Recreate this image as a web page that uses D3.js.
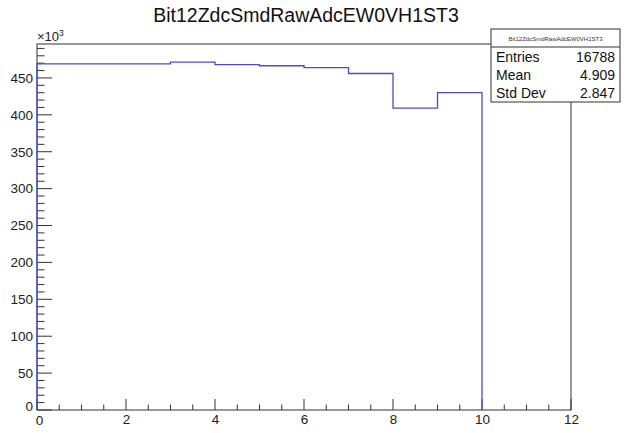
<!DOCTYPE html>
<html>
<head>
<meta charset="utf-8">
<script src="https://cdn.jsdelivr.net/npm/d3@7"></script>
<style>
  html, body { margin: 0; padding: 0; background: #fff; }
  svg { display: block; }
  text { font-family: "Liberation Sans", Arial, Helvetica, sans-serif; }
</style>
</head>
<body>
<svg id="chart" width="628" height="433"></svg>
<script>
// Histogram bins (lower edges) and contents, in units of 10^3
const binEdges = [0, 1, 2, 3, 4, 5, 6, 7, 8, 9, 10];
const binValues = [469, 469, 469, 471.5, 468, 466.5, 464, 456, 409, 430];
const xTicks = [0, 2, 4, 6, 8, 10, 12];
const yTicks = [0, 50, 100, 150, 200, 250, 300, 350, 400, 450];
const title = "Bit12ZdcSmdRawAdcEW0VH1ST3";
const statNames = ["Entries", "Mean", "Std Dev"];
const statValues = ["16788", "4.909", "2.847"];

const W = 628, H = 433;
const frame = { left: 37, right: 571, top: 44, bottom: 410 };
const svg = d3.select("#chart");

const x = d3.scaleLinear().domain([0, 12]).range([frame.left, frame.right]);
const y = d3.scaleLinear().domain([0, 496]).range([frame.bottom, frame.top]);

const axisColor = "#333";
const labelSize = 13.5;

// Frame box
svg.append("rect")
  .attr("x", frame.left).attr("y", frame.top)
  .attr("width", frame.right - frame.left).attr("height", frame.bottom - frame.top)
  .attr("fill", "none").attr("stroke", axisColor).attr("stroke-width", 1);

// Major and minor ticks
const g = svg.append("g").attr("stroke", axisColor).attr("stroke-width", 1);
d3.range(0, 12.001, 0.5).forEach(v => {
  const major = Math.abs(v % 2) < 1e-9;
  g.append("line")
    .attr("x1", x(v)).attr("x2", x(v))
    .attr("y1", frame.bottom).attr("y2", frame.bottom - (major ? 11 : 5.5));
});
d3.range(0, 496, 10).forEach(v => {
  const major = v % 50 === 0;
  g.append("line")
    .attr("x1", frame.left).attr("x2", frame.left + (major ? 15 : 7.5))
    .attr("y1", y(v)).attr("y2", y(v));
});

// X axis labels
const xAxis = d3.axisBottom(x).tickValues(xTicks).tickSize(0).tickPadding(4);
const xg = svg.append("g").attr("transform", `translate(0,${frame.bottom})`).call(xAxis);
xg.select(".domain").remove();
xg.selectAll("text").attr("font-size", labelSize).attr("fill", "#222")
  .attr("font-family", "Liberation Sans, Arial, sans-serif");
xg.selectAll(".tick").filter(d => d === 0).select("text").attr("dx", 2).attr("dy", "0.85em");

// Y axis labels
const yAxis = d3.axisLeft(y).tickValues(yTicks).tickSize(0).tickPadding(4);
const yg = svg.append("g").attr("transform", `translate(${frame.left},0)`).call(yAxis);
yg.select(".domain").remove();
yg.selectAll("text").attr("font-size", labelSize).attr("fill", "#222")
  .attr("font-family", "Liberation Sans, Arial, sans-serif");
yg.selectAll(".tick").filter(d => d === 0).select("text").attr("dy", "0.05em");

// Exponent label
const ex = svg.append("text").attr("x", frame.left).attr("y", 41)
  .attr("font-size", 13).attr("fill", "#222");
ex.append("tspan").text("\u00d710");
ex.append("tspan").attr("font-size", 8.5).attr("dy", -5).text("3");

// Histogram outline (step)
const pts = [[x(binEdges[0]), y(0)]];
binValues.forEach((v, i) => {
  pts.push([x(binEdges[i]), y(v)]);
  pts.push([x(binEdges[i + 1]), y(v)]);
});
pts.push([x(binEdges[binEdges.length - 1]), y(0)]);
svg.append("path")
  .attr("d", d3.line()(pts))
  .attr("fill", "none").attr("stroke", "#4b4bd0").attr("stroke-width", 1.3);

// Title
svg.append("text").attr("x", 306).attr("y", 22)
  .attr("text-anchor", "middle").attr("font-size", 19.5).attr("fill", "#111")
  .text(title);

// Statistics box
const sb = { left: 491, right: 620, top: 29, bottom: 102, sep: 47 };
svg.append("rect")
  .attr("x", sb.left).attr("y", sb.top)
  .attr("width", sb.right - sb.left).attr("height", sb.bottom - sb.top)
  .attr("fill", "#fff").attr("stroke", axisColor).attr("stroke-width", 1);
svg.append("line")
  .attr("x1", sb.left).attr("x2", sb.right).attr("y1", sb.sep).attr("y2", sb.sep)
  .attr("stroke", axisColor);
svg.append("text").attr("x", (sb.left + sb.right) / 2).attr("y", 41)
  .attr("text-anchor", "middle").attr("font-size", 6).attr("fill", "#333")
  .text(title);
statNames.forEach((n, i) => {
  const yy = 61.5 + i * 18.2;
  svg.append("text").attr("x", sb.left + 5).attr("y", yy)
    .attr("font-size", 14).attr("fill", "#111").text(n);
  svg.append("text").attr("x", sb.right - 5).attr("y", yy)
    .attr("text-anchor", "end").attr("font-size", 14).attr("fill", "#111").text(statValues[i]);
});
</script>
</body>
</html>
